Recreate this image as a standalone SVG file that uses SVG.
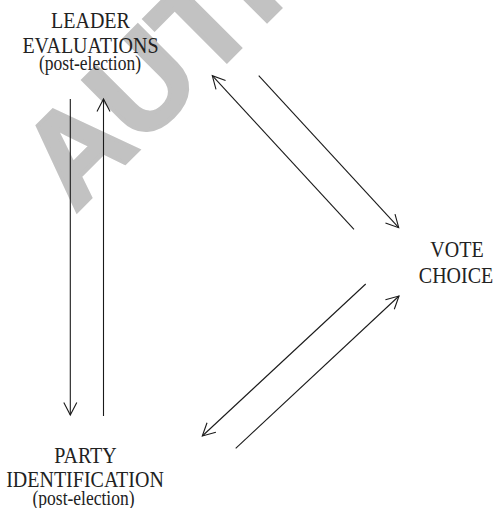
<svg xmlns="http://www.w3.org/2000/svg" width="496" height="508" viewBox="0 0 496 508">
<style>
.lbl{font-family:"Liberation Serif","Times New Roman",serif;font-size:20px;fill:#222;text-anchor:middle}
.sub{font-family:"Liberation Serif","Times New Roman",serif;font-size:17.5px;fill:#222;text-anchor:middle}
.wm{font-family:"Liberation Sans",Arial,sans-serif;font-weight:bold;font-size:128px;fill:#c2c2c2;stroke:#c2c2c2;stroke-width:4;stroke-linejoin:miter}
.conn line{stroke:#1a1a1a;stroke-width:1.1;fill:none}
</style>
<defs>
<marker id="ah" markerUnits="userSpaceOnUse" markerWidth="16" markerHeight="16" refX="0" refY="0" viewBox="-14 -8 16 16" orient="auto" overflow="visible">
<path d="M -12.5 -6.5 L 0 0 L -12.5 6.5" fill="none" stroke="#1a1a1a" stroke-width="1.1"/>
</marker>
</defs>
<rect width="496" height="508" fill="#fff"/>
<text class="wm" transform="translate(75,213) rotate(-45)">AUTHOR</text>
<g id="leader">
<text class="lbl" transform="translate(90.5,27.7) scale(1,1.18)">LEADER</text>
<text class="lbl" transform="translate(90.5,53.3) scale(1,1.18)">EVALUATIONS</text>
<text class="sub" transform="translate(90,69.8) scale(1,1.18)">(post-election)</text>
</g>
<g id="party">
<text class="lbl" transform="translate(85.5,462.7) scale(1,1.18)">PARTY</text>
<text class="lbl" transform="translate(85,486.7) scale(1,1.18)">IDENTIFICATION</text>
<text class="sub" transform="translate(83.5,504.6) scale(1,1.18)">(post-election)</text>
</g>
<g id="vote">
<text class="lbl" transform="translate(457,257.3) scale(1,1.18)">VOTE</text>
<text class="lbl" transform="translate(456,283.3) scale(1,1.18)">CHOICE</text>
</g>
<g class="conn" id="connectors">
<line x1="70.3" y1="99" x2="70.3" y2="415" marker-end="url(#ah)"/>
<line x1="103.5" y1="416" x2="103.5" y2="99" marker-end="url(#ah)"/>
<line x1="354" y1="229.3" x2="212.3" y2="75.7" marker-end="url(#ah)"/>
<line x1="258.7" y1="75.7" x2="398.7" y2="227.7" marker-end="url(#ah)"/>
<line x1="365.7" y1="284" x2="202.3" y2="436" marker-end="url(#ah)"/>
<line x1="235.7" y1="448.3" x2="399" y2="296" marker-end="url(#ah)"/>
</g>
</svg>
